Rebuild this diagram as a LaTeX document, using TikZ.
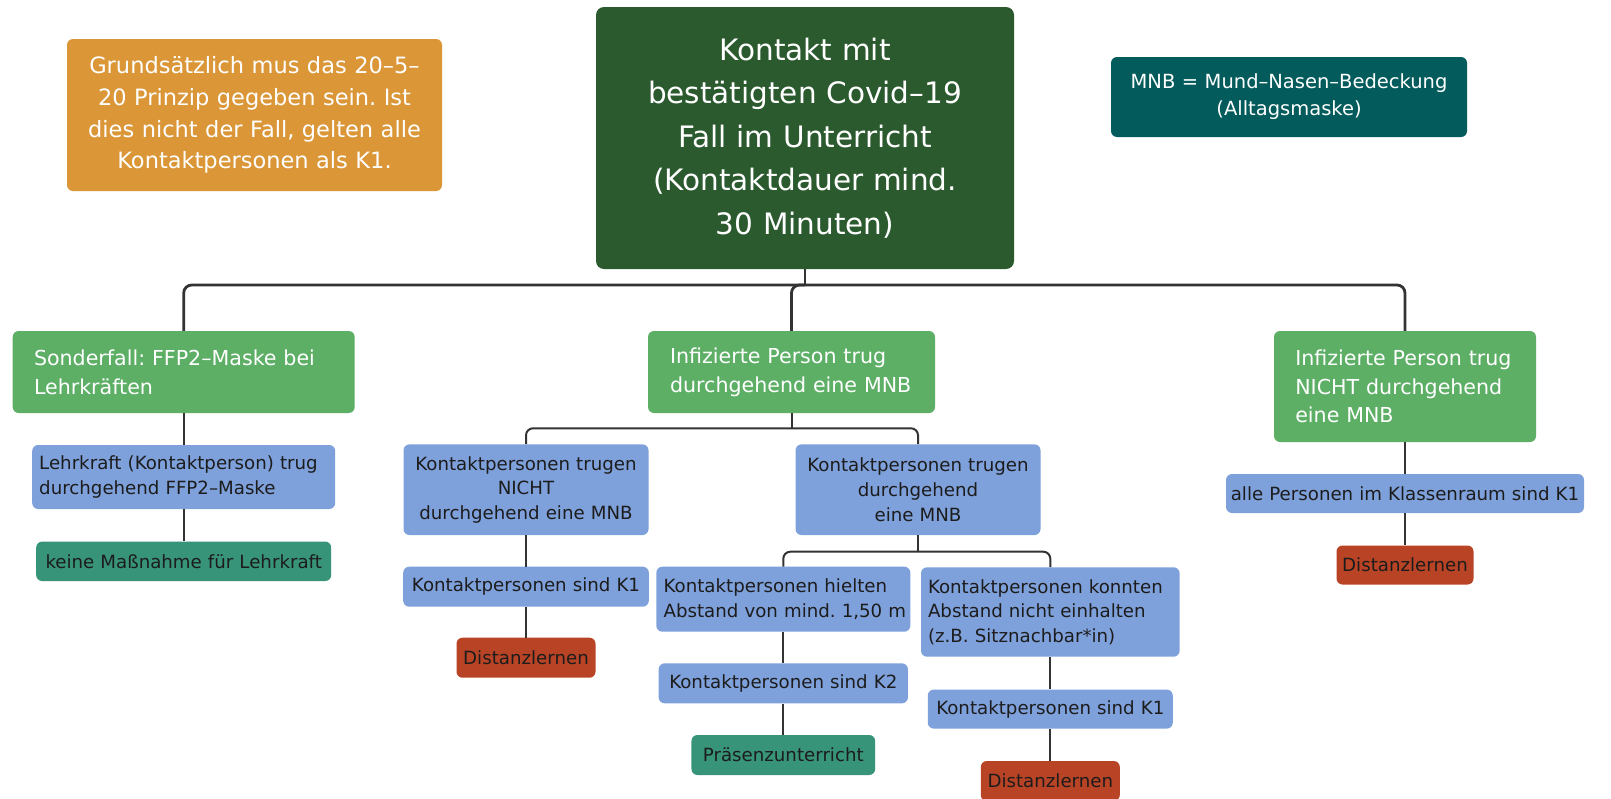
\documentclass[tikz,border=0pt]{standalone}
\usepackage{fontspec}
\setmainfont{DejaVu Sans}
\frenchspacing
\definecolor{titlegreen}{HTML}{2C5A2F}
\definecolor{orangebox}{HTML}{DA9637}
\definecolor{mnbteal}{HTML}{045B5B}
\definecolor{lgreen}{HTML}{5DAF66}
\definecolor{bluebox}{HTML}{7FA1DB}
\definecolor{tealgreen}{HTML}{389479}
\definecolor{redbox}{HTML}{B94325}
\definecolor{linegray}{HTML}{333333}
\definecolor{darktext}{HTML}{1C1C1C}
\begin{document}
\begin{tikzpicture}[x=1pt,y=-1pt,
  box/.style={rectangle, rounded corners=6pt, inner sep=0pt, draw=none},
  titlebox/.style={box, rounded corners=8pt, fill=titlegreen, text=white, font=\fontsize{29.5}{43.5}\selectfont, align=center},
  notebox/.style={box, fill=orangebox, text=white, font=\fontsize{22.5}{31.7}\selectfont, align=center},
  mnbbox/.style={box, fill=mnbteal, text=white, font=\fontsize{19.5}{27}\selectfont, align=center},
  casebox/.style={box, fill=lgreen, text=white, font=\fontsize{20.6}{28.8}\selectfont, align=left},
  condbox/.style={box, fill=bluebox, text=darktext, font=\fontsize{18.2}{24.7}\selectfont},
  okbox/.style={box, fill=tealgreen, text=darktext, font=\fontsize{18.2}{24.7}\selectfont, align=center},
  distbox/.style={box, fill=redbox, text=darktext, font=\fontsize{18.2}{24.7}\selectfont, align=center},
  bus/.style={draw=linegray, line width=2.8pt, rounded corners=8pt},
  link/.style={draw=linegray, line width=2pt, rounded corners=7pt},
]
\fill[white] (0,0) rectangle (1611,798);
\useasboundingbox (0,0) rectangle (1611,798);
\clip (0,0) rectangle (1611,798);

% top row
\node[titlebox, minimum width=418pt, minimum height=262pt, text width=410pt] (title) at (805,138)
  {Kontakt mit\\bestätigten Covid–19\\Fall im Unterricht\\(Kontaktdauer mind.\\30 Minuten)};
\node[notebox, minimum width=375pt, minimum height=152pt, text width=365pt] (note) at (254.5,115)
  {Grundsätzlich mus das 20–5–\\20 Prinzip gegeben sein. Ist\\dies nicht der Fall, gelten alle\\Kontaktpersonen als K1.};
\node[mnbbox, minimum width=356pt, minimum height=80pt, text width=346pt] (mnb) at (1289,97)
  {MNB = Mund–Nasen–Bedeckung\\(Alltagsmaske)};

% level 2
\node[casebox, minimum width=342pt, minimum height=82pt, text width=299.4pt] (sonder) at (183.7,372)
  {\mbox{Sonderfall: FFP2–Maske bei}\\\mbox{Lehrkräften}};
\node[casebox, minimum width=287pt, minimum height=82pt, text width=243pt] (infA) at (791.5,372)
  {\mbox{Infizierte Person trug}\\\mbox{durchgehend eine MNB}};
\node[casebox, minimum width=262pt, minimum height=111pt, text width=219.4pt] (infB) at (1405,386.5)
  {\mbox{Infizierte Person trug}\\\mbox{NICHT durchgehend}\\\mbox{eine MNB}};

% left branch
\node[condbox, align=left, minimum width=303pt, minimum height=64pt, text width=289pt] (lehr) at (183.7,477)
  {\mbox{Lehrkraft (Kontaktperson) trug}\\\mbox{durchgehend FFP2–Maske}};
\node[okbox, minimum width=295pt, minimum height=39.5pt, text width=290pt] (keine) at (183.7,561.3)
  {keine Maßnahme für Lehrkraft};

% middle branch
\node[condbox, align=center, minimum width=245pt, minimum height=90.7pt, text width=240pt] (notA) at (526,489.7)
  {Kontaktpersonen trugen\\NICHT\\durchgehend eine MNB};
\node[condbox, align=center, minimum width=245pt, minimum height=90.7pt, text width=240pt] (durchA) at (918,489.7)
  {Kontaktpersonen trugen\\durchgehend\\eine MNB};
\node[condbox, align=center, minimum width=245.6pt, minimum height=40pt, text width=240pt] (k1a) at (526,586.7)
  {Kontaktpersonen sind K1};
\node[distbox, minimum width=139pt, minimum height=40pt, text width=135pt] (dist1) at (526,657.7)
  {Distanzlernen};

\node[condbox, align=left, minimum width=254pt, minimum height=65pt, text width=239.4pt] (hielten) at (783.3,599.2)
  {\mbox{Kontaktpersonen hielten}\\\mbox{Abstand von mind. 1,50 m}};
\node[condbox, align=center, minimum width=249.3pt, minimum height=40pt, text width=245pt] (k2) at (783.3,683.3)
  {Kontaktpersonen sind K2};
\node[okbox, minimum width=183.7pt, minimum height=40pt, text width=180pt] (praes) at (783.3,755)
  {Präsenzunterricht};

\node[condbox, align=left, minimum width=258.6pt, minimum height=89.4pt, text width=244.6pt] (konnten) at (1050.3,612)
  {\mbox{Kontaktpersonen konnten}\\\mbox{Abstand nicht einhalten}\\\mbox{(z.B. Sitznachbar*in)}};
\node[condbox, align=center, minimum width=245pt, minimum height=39pt, text width=240pt] (k1b) at (1050.3,709.1)
  {Kontaktpersonen sind K1};
\node[distbox, minimum width=139pt, minimum height=40pt, text width=135pt] (dist3) at (1050.3,781)
  {Distanzlernen};

% right branch
\node[condbox, align=center, minimum width=358pt, minimum height=39pt, text width=354pt] (alle) at (1405,493.5)
  {alle Personen im Klassenraum sind K1};
\node[distbox, minimum width=137pt, minimum height=39pt, text width=133pt] (dist2) at (1405,565)
  {Distanzlernen};

% connectors
\coordinate (b1) at (805,285);
\coordinate (b2) at (791.5,428.3);
\coordinate (b3) at (918,551.7);
\draw[bus] (title.south) -- (b1);
\draw[bus] (sonder.north) |- (b1) -| (infB.north);
\draw[bus] (infA.north) |- (b1);

\draw[link] (sonder.south) -- (lehr.north);
\draw[link] (lehr.south) -- (keine.north);

\draw[link] (infA.south) -- (b2);
\draw[link] (notA.north) |- (b2) -| (durchA.north);
\draw[link] (notA.south) -- (k1a.north);
\draw[link] (k1a.south) -- (dist1.north);

\draw[link] (durchA.south) -- (b3);
\draw[link] (hielten.north) |- (b3) -| (konnten.north);
\draw[link] (hielten.south) -- (k2.north);
\draw[link] (k2.south) -- (praes.north);
\draw[link] (konnten.south) -- (k1b.north);
\draw[link] (k1b.south) -- (dist3.north);

\draw[link] (infB.south) -- (alle.north);
\draw[link] (alle.south) -- (dist2.north);
\end{tikzpicture}
\end{document}
